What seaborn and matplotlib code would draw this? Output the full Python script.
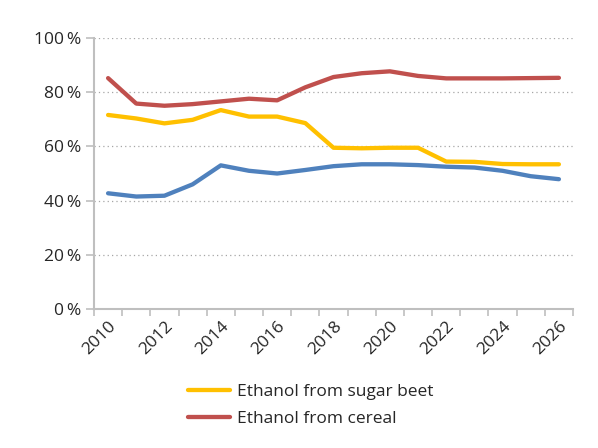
import numpy as np
import pandas as pd
import seaborn as sns
import matplotlib.pyplot as plt
from matplotlib.ticker import FixedLocator, FuncFormatter

years = list(range(2010, 2027))
sugar_beet = [71.6, 70.3, 68.5, 69.8, 73.4, 71.0, 71.0, 68.6, 59.5, 59.3, 59.5, 59.5, 54.4, 54.3, 53.5, 53.4, 53.4]
cereal = [85.2, 75.8, 75.0, 75.6, 76.6, 77.6, 77.0, 81.8, 85.6, 87.0, 87.7, 86.0, 85.1, 85.1, 85.1, 85.2, 85.3]
third = [42.7, 41.5, 41.8, 46.0, 53.0, 51.0, 50.0, 51.3, 52.7, 53.4, 53.4, 53.1, 52.5, 52.2, 51.0, 49.0, 47.9]

labels = ["Ethanol from sugar beet", "Ethanol from cereal", "other"]
colors = ["#FFC000", "#C0504D", "#4F81BD"]

df = pd.DataFrame({
    "pos": list(range(len(years))) * 3,
    "value": sugar_beet + cereal + third,
    "series": [labels[0]] * 17 + [labels[1]] * 17 + [labels[2]] * 17,
})

sns.set_theme(style="white")
plt.rcParams["font.family"] = ["Open Sans", "DejaVu Sans"]

fig = plt.figure(figsize=(5.98, 4.48), dpi=100)
ax = fig.add_axes([94 / 598, 1 - 309 / 448, (573 - 94) / 598, (309 - 38) / 448])

# blue drawn first so it sits below the others
sns.lineplot(data=df[df.series == labels[2]], x="pos", y="value", color=colors[2],
             linewidth=3.1, ax=ax, legend=False, solid_capstyle="round", solid_joinstyle="round")
for lab, col in zip(labels[:2], colors[:2]):
    sns.lineplot(data=df[df.series == lab], x="pos", y="value", color=col, label=lab,
                 linewidth=3.1, ax=ax, solid_capstyle="round", solid_joinstyle="round")

ax.set_xlim(-0.5, len(years) - 0.5)
ax.set_ylim(0, 100)
ax.yaxis.set_major_locator(FixedLocator([0, 20, 40, 60, 80, 100]))
ax.yaxis.set_major_formatter(FuncFormatter(lambda v, p: f"{int(v)}\u2009%"))
ax.grid(axis="y", linestyle=(0, (1, 2.5)), color="#a6a6a6", linewidth=0.9)
ax.set_axisbelow(True)

# Excel-style category axis: ticks between categories, labels on every other year
ax.xaxis.set_major_locator(FixedLocator(np.arange(-0.5, len(years), 1.0)))
ax.xaxis.set_major_formatter(FuncFormatter(lambda v, p: ""))
ax.xaxis.set_minor_locator(FixedLocator(list(range(0, len(years), 2))))
ax.set_xticklabels([str(y) for y in years[::2]], minor=True, rotation=45,
                   ha="right", rotation_mode="anchor")
ax.tick_params(axis="x", which="major", length=5, color="#bfbfbf", width=1.2, direction="out", bottom=True)
ax.tick_params(axis="x", which="minor", length=0, pad=7, labelsize=12.5, colors="#262626", bottom=True)
ax.tick_params(axis="y", length=6, color="#bfbfbf", width=1.2, direction="out", left=True,
               labelsize=12.5, labelcolor="#262626", pad=3)

for side in ["top", "right"]:
    ax.spines[side].set_visible(False)
for side in ["left", "bottom"]:
    ax.spines[side].set_color("#bfbfbf")
    ax.spines[side].set_linewidth(1.5)

ax.set_xlabel("")
ax.set_ylabel("")
leg = ax.legend(loc="upper left", bbox_to_anchor=(188 / 598, 1 - 384 / 448), bbox_transform=fig.transFigure,
                frameon=False, fontsize=12.5, handlelength=2.4, handletextpad=0.45, labelspacing=0.6,
                borderaxespad=0, borderpad=0)
for t in leg.get_texts():
    t.set_color("#262626")

fig.savefig("out.png", dpi=100)
